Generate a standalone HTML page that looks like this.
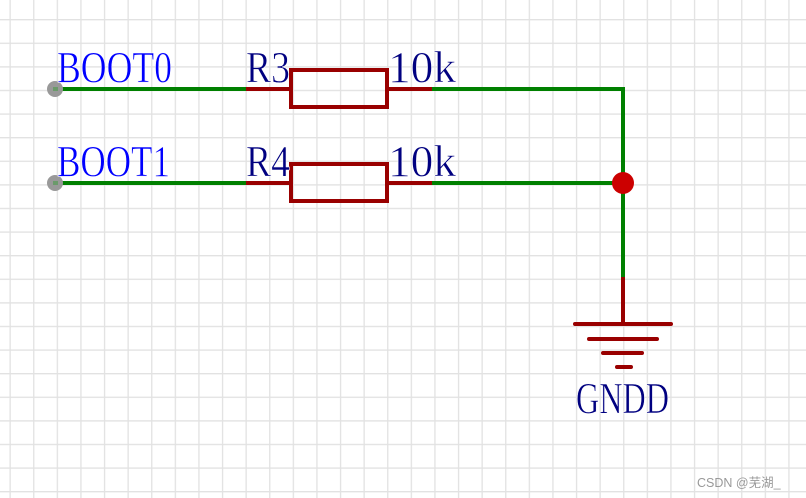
<!DOCTYPE html>
<html><head><meta charset="utf-8"><style>
html,body{margin:0;padding:0;background:#fff;}
svg{display:block}
</style></head><body>
<svg width="806" height="498" viewBox="0 0 806 498" xmlns="http://www.w3.org/2000/svg">
<defs>
<pattern id="g" x="9.5" y="19" width="23.6" height="23.6" patternUnits="userSpaceOnUse">
<path d="M0 0 H23.6 M0 0 V23.6" stroke="#e2e2e2" stroke-width="2.6" fill="none"/>
</pattern>
</defs>
<rect width="806" height="498" fill="#fff"/>
<rect width="806" height="498" fill="url(#g)"/>
<g stroke-width="4" fill="none" stroke-linecap="butt">
<path d="M55 89 H246 M432 89 H623 V277 M55 183 H246 M432 183 H623" stroke="#008000"/>
<path d="M246 89 H291 M387 89 H432 M246 183 H291 M387 183 H432 M623 277 V324" stroke="#990000"/>
<rect x="291" y="70" width="96" height="37" stroke="#990000"/>
<rect x="291" y="164" width="96" height="37" stroke="#990000"/>
<g stroke="#990000" stroke-linecap="round">
<path d="M575 324 H671 M589 339 H657 M603 353 H642 M617 367 H631"/>
</g>
</g>
<circle cx="623" cy="183" r="11" fill="#cc0000"/>
<circle cx="55" cy="89" r="8" fill="#999"/>
<circle cx="55" cy="183" r="8" fill="#999"/>
<rect x="53" y="87" width="5" height="4" fill="#6a9a6a"/>
<rect x="53" y="181" width="5" height="4" fill="#6a9a6a"/>
<g font-family="Liberation Serif, serif" font-size="44" stroke="#fff" stroke-width="0.6" paint-order="normal">
<text x="57" y="82" fill="#0000ff" textLength="115" lengthAdjust="spacingAndGlyphs">BOOT0</text>
<text x="57" y="176" fill="#0000ff" textLength="113" lengthAdjust="spacingAndGlyphs">BOOT1</text>
<text x="246" y="82" fill="#000080" textLength="44" lengthAdjust="spacingAndGlyphs">R3</text>
<text x="246" y="176" fill="#000080" textLength="44" lengthAdjust="spacingAndGlyphs">R4</text>
<text x="388" y="82" fill="#000080" textLength="68" lengthAdjust="spacingAndGlyphs">10k</text>
<text x="388" y="176" fill="#000080" textLength="68" lengthAdjust="spacingAndGlyphs">10k</text>
<text x="576" y="413" fill="#000080" textLength="93" lengthAdjust="spacingAndGlyphs">GNDD</text>
</g>
<text x="697" y="487" font-family="Liberation Sans, 'Noto Sans CJK SC', sans-serif" font-size="12.5" fill="#999">CSDN @芜湖_</text>
</svg>
</body></html>
